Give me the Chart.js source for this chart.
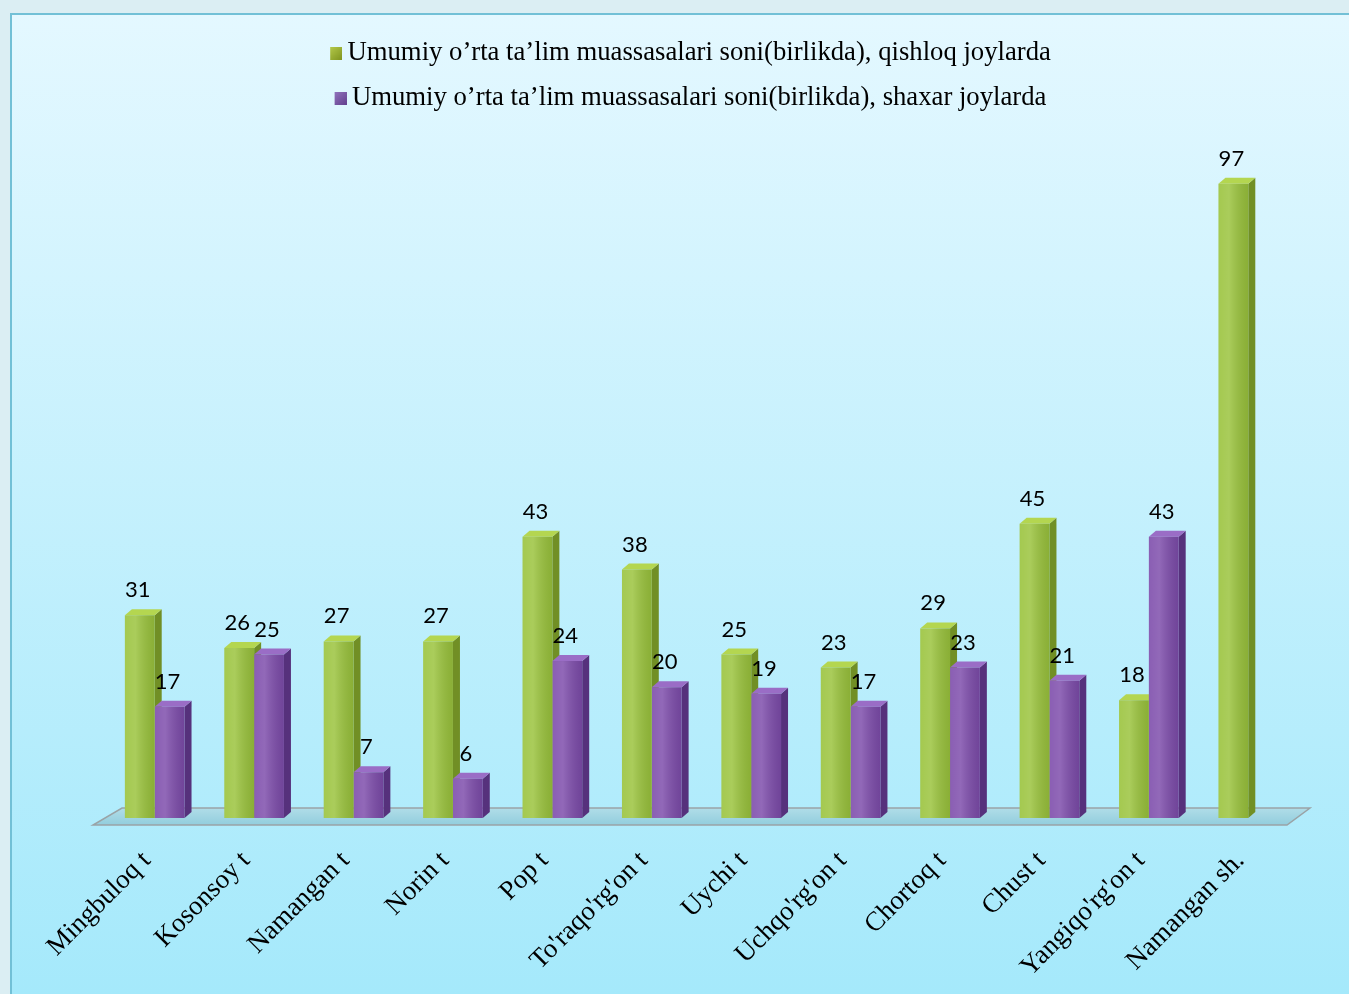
<!DOCTYPE html>
<html><head><meta charset="utf-8">
<script src="https://cdn.jsdelivr.net/npm/chart.js@4/dist/chart.umd.min.js"></script>
<style>html,body{margin:0;padding:0;background:#dbeef3;}#wrap{width:1349px;height:994px;}</style>
</head><body><div id="wrap"><canvas id="c" width="1349" height="994"></canvas></div>
<script>
const categories = ["Mingbuloq t","Kosonsoy t","Namangan t","Norin t","Pop t","To'raqo'rg'on t","Uychi t","Uchqo'rg'on t","Chortoq t","Chust t","Yangiqo'rg'on t","Namangan sh."];
const ruralLabel = "Umumiy o’rta ta’lim muassasalari soni(birlikda), qishloq joylarda";
const urbanLabel = "Umumiy o’rta ta’lim muassasalari soni(birlikda), shaxar joylarda";
const ruralValues = [31,26,27,27,43,38,25,23,29,45,18,97];
const urbanValues = [17,25,7,6,24,20,19,17,23,21,43,null];

const GREEN = {front:'#9ac33c', side:'#718f25', top:'#b4d650'};
const PURPLE = {front:'#7d4cab', side:'#56317c', top:'#9a6dc6'};
const DX = 7, DY = 6;

const framePlugin = {
  id:'frame',
  afterLayout(chart){
    const lg = chart.legend;
    if (lg) { lg.left -= 15; lg.right -= 15; lg.top += 3; lg.bottom += 3; }
  },
  beforeDraw(chart){
    const c = chart.ctx, W = chart.width, H = chart.height;
    c.save();
    c.fillStyle = '#dbeef3'; c.fillRect(0,0,W,H);
    const g = c.createLinearGradient(0,13,0,H);
    g.addColorStop(0,'#e4f8ff'); g.addColorStop(1,'#a5e9fb');
    c.fillStyle = g; c.fillRect(10,13,W-10,H-13);
    c.strokeStyle = '#72c0d6'; c.lineWidth = 2;
    c.beginPath(); c.moveTo(11,H); c.lineTo(11,14); c.lineTo(W,14); c.stroke();
    c.restore();
  }
};

function drawPoly(c, pts, fill){
  c.beginPath(); c.moveTo(pts[0][0],pts[0][1]);
  for(let i=1;i<pts.length;i++) c.lineTo(pts[i][0],pts[i][1]);
  c.closePath(); c.fillStyle = fill; c.fill();
}

const threeD = {
  id:'threeD',
  beforeDatasetsDraw(chart){
    const c = chart.ctx, a = chart.chartArea, base = chart.scales.y.getPixelForValue(0);
    c.save();
    // floor
    const fg = c.createLinearGradient(0, base-10, 0, base+7);
    fg.addColorStop(0,'#b0dde8'); fg.addColorStop(1,'#92cddd');
    c.beginPath();
    c.moveTo(a.left+17, base-10); c.lineTo(a.right+12, base-10);
    c.lineTo(a.right-11, base+7); c.lineTo(a.left-12, base+7); c.closePath();
    c.fillStyle = fg; c.fill();
    c.strokeStyle = '#9aa3a6'; c.lineWidth = 1.5; c.stroke();
    // sides and tops
    chart.data.datasets.forEach((ds, di) => {
      const meta = chart.getDatasetMeta(di);
      const col = di === 0 ? GREEN : PURPLE;
      meta.data.forEach((el, i) => {
        if (ds.data[i] == null) return;
        const p = el.getProps(['x','y','base','width'], true);
        const l = p.x - p.width/2, r = p.x + p.width/2;
        drawPoly(c, [[r,p.y],[r+DX,p.y-DY],[r+DX,p.base-DY],[r,p.base]], col.side);
        drawPoly(c, [[l,p.y],[l+DX,p.y-DY],[r+DX,p.y-DY],[r,p.y]], col.top);
      });
    });
    c.restore();
  },
  afterDatasetsDraw(chart){
    const c = chart.ctx;
    c.save();
    chart.data.datasets.forEach((ds, di) => {
      const meta = chart.getDatasetMeta(di);
      meta.data.forEach((el, i) => {
        if (ds.data[i] == null) return;
        const p = el.getProps(['x','y','base','width'], true);
        const l = p.x - p.width/2;
        const g = c.createLinearGradient(l,0,l+p.width,0);
        g.addColorStop(0,'rgba(255,255,255,0.10)');
        g.addColorStop(0.35,'rgba(255,255,255,0.16)');
        g.addColorStop(1,'rgba(0,0,0,0.10)');
        c.fillStyle = g; c.fillRect(l, p.y, p.width, p.base - p.y);
        c.fillStyle = '#000';
        c.font = '22px Lato, "Open Sans", sans-serif';
        c.textAlign = 'center'; c.textBaseline = 'alphabetic';
        c.fillText(String(ds.data[i]), p.x - 2, p.y - 18);
      });
    });
    c.restore();
  }
};

function legendBox(color){
  const cv = document.createElement('canvas'); cv.width = 28; cv.height = 13;
  const x = cv.getContext('2d');
  const g = x.createLinearGradient(16,0,28,13);
  g.addColorStop(0, color[0]); g.addColorStop(1, color[1]);
  x.fillStyle = g; x.fillRect(16,0,12,13);
  return cv;
}

new Chart(document.getElementById('c'), {
  type:'bar',
  data:{
    labels: categories,
    datasets:[
      {label: ruralLabel, data: ruralValues, backgroundColor: GREEN.front, borderWidth:0, categoryPercentage:0.6, barPercentage:1.0},
      {label: urbanLabel, data: urbanValues, backgroundColor: PURPLE.front, borderWidth:0, categoryPercentage:0.6, barPercentage:1.0}
    ]
  },
  options:{
    responsive:false, animation:false,
    layout:{padding:{top:19,left:105,right:51,bottom:0}},
    scales:{
      y:{display:false, min:0, max:107},
      x:{
        grid:{display:false}, border:{display:false},
        afterFit(scale){ scale.height = 176; },
        ticks:{color:'#000', font:{family:'"Liberation Serif", "Times New Roman", serif', size:27}, maxRotation:45, minRotation:45, padding:19, labelOffset:-8}
      }
    },
    plugins:{
      tooltip:{enabled:false},
      legend:{
        position:'top',
        labels:{
          color:'#000',
          font:{family:'"Liberation Serif", "Times New Roman", serif', size:26.7},
          padding:18,
          boxWidth:12, boxHeight:13,
          usePointStyle:true,
          generateLabels(chart){
            return [
              {text: ruralLabel, pointStyle: legendBox(['#b3c84a','#7f941f']), fillStyle:'#9aae3a', strokeStyle:'transparent', lineWidth:0, datasetIndex:0, hidden:false},
              {text: urbanLabel, pointStyle: legendBox(['#9274bd','#63418f']), fillStyle:'#7b5aa5', strokeStyle:'transparent', lineWidth:0, datasetIndex:1, hidden:false}
            ];
          }
        }
      }
    }
  },
  plugins:[framePlugin, threeD]
});
</script>
</body></html>
